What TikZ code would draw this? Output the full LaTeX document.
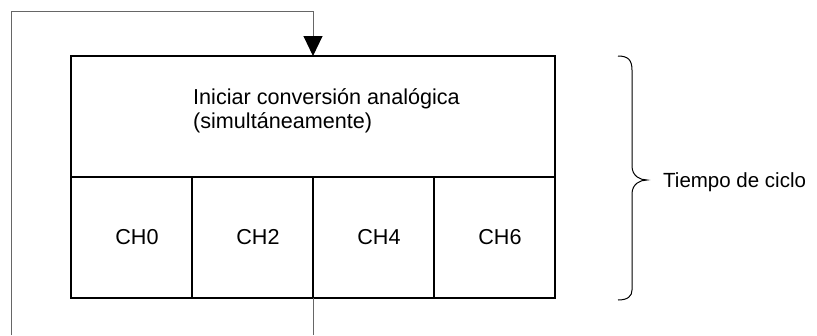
\documentclass[tikz,border=0pt]{standalone}
\usepackage{fontspec}
\setmainfont{Liberation Sans}
\usetikzlibrary{positioning, arrows.meta, calc}
\newcommand{\fs}{\fontsize{21.6pt}{24pt}\selectfont}
\newcommand{\fsside}{\fontsize{20.5pt}{24pt}\selectfont}

\begin{document}
\begin{tikzpicture}[
                x=1pt, y=-1pt,
                node distance=0pt,
                stage/.style={rectangle, draw=black, line width=1.6pt, minimum width=484pt,
                              minimum height=121pt, inner sep=0pt, outer sep=0pt},
                chan/.style={rectangle, draw=black, line width=1.6pt, minimum width=121pt,
                             minimum height=121pt, inner sep=0pt, outer sep=0pt, font=\fs,
                             execute at begin node={\hspace*{11pt}}},
                loopline/.style={draw=black!60, line width=1pt},
                arrow/.style={loopline, -{Triangle[width=19pt, length=20pt, color=black]}}
            ]
                \useasboundingbox (0,0) rectangle (817,335);

                \node[stage] (start) at (313,116.5) {};
                \node[font=\fs, align=left, anchor=north west, inner sep=0pt] (msg) at (193,88)
                    {Iniciar conversión analógica\\(simultáneamente)};

                \node[chan, anchor=north west] (ch0) at (start.south west) {CH0};
                \node[chan, right=of ch0] (ch2) {CH2};
                \node[chan, right=of ch2] (ch4) {CH4};
                \node[chan, right=of ch4] (ch6) {CH6};

                % cycle time brace
                \draw[line width=1pt] (618,56) .. controls (628,56) and (632,60) .. (632,70)
                    -- (632,166) .. controls (632,176) and (640,180) .. (647,180)
                    .. controls (640,180) and (632,184) .. (632,194)
                    -- (632,290) .. controls (632,296) and (628,300) .. (618,300);
                \node[font=\fsside, anchor=base west, inner sep=0pt] (cyc) at (663,187) {Tiempo de ciclo};

                % loop back
                \coordinate (outb) at (313,335);
                \coordinate (outl) at (11,335);
                \coordinate (topl) at (11,11);
                \coordinate (topr) at (313,11);
                \draw[loopline] (ch2.south east) -- (outb);
                \draw[arrow] (outl) -- (topl) -- (topr) -- (start.north);
            \end{tikzpicture}
\end{document}
